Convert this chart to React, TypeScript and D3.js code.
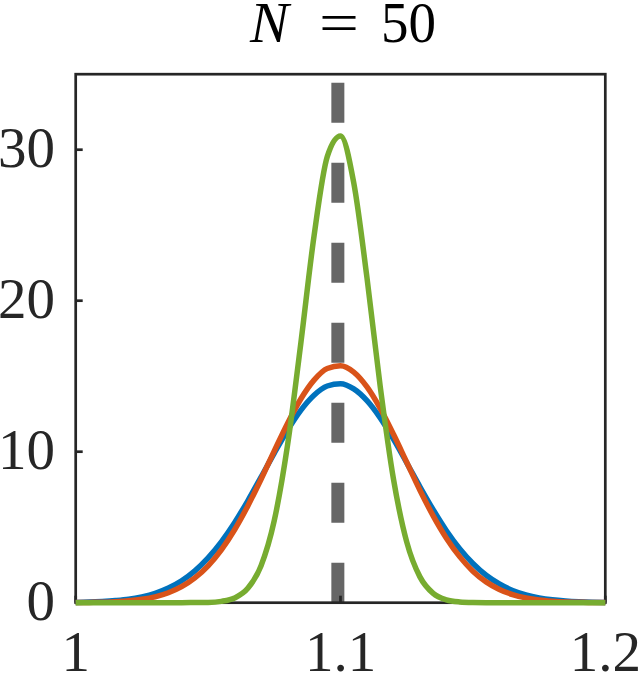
import React from "react";
import * as d3 from "d3";

const WIDTH = 641;
const HEIGHT = 673;

// sample positions along x
const X_VALUES = [
  1.0, 1.005, 1.01, 1.015, 1.02, 1.025, 1.03, 1.035, 1.04, 1.045, 1.05,
  1.055, 1.06, 1.065, 1.07, 1.075, 1.08, 1.085, 1.09, 1.095, 1.1, 1.105,
  1.11, 1.115, 1.12, 1.125, 1.13, 1.135, 1.14, 1.145, 1.15, 1.155, 1.16,
  1.165, 1.17, 1.175, 1.18, 1.185, 1.19, 1.195, 1.2,
];

const BLUE = [
  0.02, 0.04, 0.08, 0.14, 0.23, 0.39, 0.62, 0.97, 1.45, 2.11, 2.97, 4.03,
  5.3, 6.75, 8.32, 9.91, 11.42, 12.74, 13.74, 14.35, 14.5, 14.16, 13.38,
  12.24, 10.83, 9.27, 7.68, 6.16, 4.77, 3.58, 2.6, 1.82, 1.24, 0.81, 0.52,
  0.32, 0.19, 0.11, 0.06, 0.03, 0.02,
];

const ORANGE = [
  0.01, 0.02, 0.03, 0.07, 0.13, 0.23, 0.39, 0.66, 1.06, 1.64, 2.44, 3.5,
  4.83, 6.41, 8.18, 10.05, 11.87, 13.49, 14.74, 15.51, 15.69, 15.27, 14.29,
  12.87, 11.15, 9.3, 7.45, 5.75, 4.27, 3.05, 2.09, 1.38, 0.88, 0.54, 0.32,
  0.18, 0.1, 0.05, 0.03, 0.01, 0.01,
];

const GREEN = [
  0, 0, 0, 0, 0, 0, 0, 0, 0, 0.01, 0.02, 0.09, 0.31, 0.95, 2.45, 5.45,
  10.43, 17.16, 24.28, 29.54, 30.91, 27.81, 21.52, 14.32, 8.19, 4.03, 1.71,
  0.62, 0.19, 0.05, 0.01, 0, 0, 0, 0, 0, 0, 0, 0, 0, 0,
];

const SERIES = [
  { name: "blue", values: BLUE, color: "#0072BD" },
  { name: "orange", values: ORANGE, color: "#D95319" },
  { name: "green", values: GREEN, color: "#77AC30" },
];

const X_TICKS = [1, 1.1, 1.2];
const Y_TICKS = [0, 10, 20, 30];
const REF_X = 1.099;

const AXIS_COLOR = "#262626";
const FONT = "'Liberation Serif', 'Times New Roman', serif";

export default function App() {
  const x = d3.scaleLinear().domain([1, 1.2]).range([75.7, 605.3]);
  const y = d3.scaleLinear().domain([0, 35]).range([602.7, 74.2]);

  const line = d3
    .line<number>()
    .x((_, i) => x(X_VALUES[i]))
    .y((d) => y(d))
    .curve(d3.curveMonotoneX);

  const [x0, x1] = x.range();
  const [y0, y1] = y.range();

  return (
    <svg
      width={WIDTH}
      height={HEIGHT}
      style={{ position: "absolute", left: 0, top: 0, background: "#fff" }}
    >
      {/* title */}
      <g fontFamily={FONT} fontSize={58} fill="#000">
        <text x={250} y={42} fontStyle="italic">
          N
        </text>
        <text x={319} y={42} textLength={40} lengthAdjust="spacingAndGlyphs">
          =
        </text>
        <text x={381} y={42} textLength={55} lengthAdjust="spacingAndGlyphs">
          50
        </text>
      </g>

      {/* reference line */}
      <path
        d={`M${x(REF_X)},${y0}L${x(REF_X)},${y1}`}
        stroke="#666666"
        strokeWidth={13}
        strokeDasharray="40 40"
        fill="none"
      />

      {/* axes box and ticks */}
      <rect
        x={x0}
        y={y1}
        width={x1 - x0}
        height={y0 - y1}
        fill="none"
        stroke={AXIS_COLOR}
        strokeWidth={2.7}
      />
      {X_TICKS.map((t) => (
        <line key={"xt" + t} x1={x(t)} x2={x(t)} y1={y0} y2={y0 - 7} stroke={AXIS_COLOR} strokeWidth={2.7} />
      ))}
      {Y_TICKS.map((t) => (
        <line key={"yt" + t} x1={x0} x2={x0 + 7} y1={y(t)} y2={y(t)} stroke={AXIS_COLOR} strokeWidth={2.7} />
      ))}

      {/* curves */}
      {SERIES.map((s) => (
        <path
          key={s.name}
          d={line(s.values) || ""}
          fill="none"
          stroke={s.color}
          strokeWidth={5.5}
          strokeLinejoin="round"
        />
      ))}

      {/* tick labels */}
      <g fontFamily={FONT} fontSize={57} fill={AXIS_COLOR}>
        {X_TICKS.map((t) => (
          <text key={"xl" + t} x={x(t)} y={671} textAnchor="middle">
            {String(t)}
          </text>
        ))}
        {Y_TICKS.map((t) => (
          <text key={"yl" + t} x={55} y={y(t) + 17} textAnchor="end">
            {String(t)}
          </text>
        ))}
      </g>
    </svg>
  );
}
